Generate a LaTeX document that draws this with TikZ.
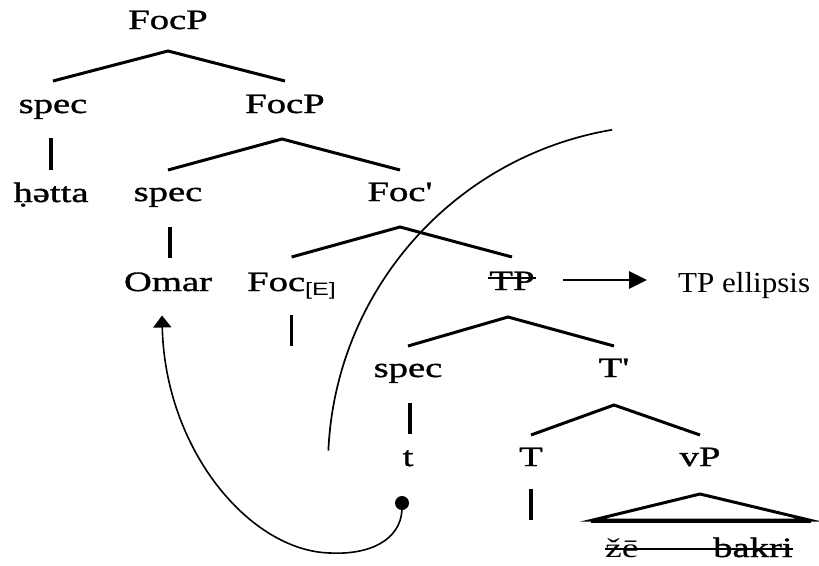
\documentclass[tikz,border=0pt]{standalone}
\usepackage{fontspec}
\usetikzlibrary{arrows.meta}
\newfontfamily\treefont[FakeStretch=1.38,FakeBold=1.2]{Liberation Serif}
\newfontfamily\wordfont[FakeStretch=1.4]{Liberation Serif}
\newfontfamily\plainfont[FakeStretch=1.07]{Liberation Serif}
\newfontfamily\subfont[FakeStretch=1.4]{Liberation Sans}
\begin{document}
\begin{tikzpicture}[x=1pt,y=-1pt,
  lbl/.style={font=\treefont\fontsize{28}{30}\selectfont,inner sep=0pt,anchor=base},
  branch/.style={line width=3pt,line join=miter},
  bar/.style={line width=3.2pt},
  thinline/.style={line width=1.7pt}]
\useasboundingbox (0,0) rectangle (819,565);
% nodes
\node[lbl] (focpA) at (168,29) {FocP};
\node[lbl] (specA) at (53,113) {spec};
\node[lbl] (focpB) at (285,113) {FocP};
\node[lbl] (hetta) at (51,202) {ḥətta};
\node[lbl] (specB) at (168,201) {spec};
\node[lbl] (focbar) at (400,201) {Foc'};
\node[lbl] (omar) at (168,291) {Omar};
\node[lbl,anchor=base west] (focE) at (247,291) {Foc{\subfont\fontsize{18}{18}\selectfont\raisebox{-4pt}{[E]}}};
\node[lbl] (tp) at (512,290) {TP};
\node[inner sep=0pt,anchor=base west,font=\plainfont\fontsize{29}{31}\selectfont] (ell) at (678,292) {TP ellipsis};
\node[lbl] (specC) at (408,377) {spec};
\node[lbl] (tbar) at (614,377) {T'};
\node[lbl] (t) at (408,466) {t};
\node[lbl] (T) at (531,466) {T};
\node[lbl] (vP) at (700,466) {vP};
\node[inner sep=0pt,anchor=base west,font=\wordfont\fontsize{27}{29}\selectfont] (ze) at (605,557) {žē};
\node[lbl,anchor=base west] (bakri) at (713,557) {bakri};
\node[circle,fill=black,inner sep=0pt,minimum size=14pt] (dot) at (402,503) {};
% branches
\draw[branch] ([yshift=32pt]specA.base) -- ([yshift=-22pt]focpA.base) -- ([yshift=32pt]focpB.base);
\draw[branch] ([yshift=31pt]specB.base) -- ([xshift=-3pt,yshift=-26pt]focpB.base) -- ([yshift=31pt]focbar.base);
\draw[branch] ([yshift=34pt]focE.base) -- ([yshift=-26pt]focbar.base) -- ([yshift=33pt]tp.base);
\draw[branch] ([yshift=31pt]specC.base) -- ([xshift=-4pt,yshift=-27pt]tp.base) -- ([yshift=31pt]tbar.base);
\draw[branch] ([yshift=31pt]T.base) -- ([yshift=-28pt]tbar.base) -- ([yshift=31pt]vP.base);
% vertical bars
\draw[bar] ([xshift=-2pt,yshift=-25pt]specA.base) -- ([xshift=-2pt,yshift=-57pt]specA.base);
\draw[bar] ([xshift=2pt,yshift=-26pt]specB.base) -- ([xshift=2pt,yshift=-57pt]specB.base);
\draw[bar] ([yshift=-24pt]focE.base) -- ([yshift=-55pt]focE.base);
\draw[bar] ([xshift=2pt,yshift=-26pt]specC.base) -- ([xshift=2pt,yshift=-57pt]specC.base);
\draw[bar] ([yshift=-23pt]T.base) -- ([yshift=-54pt]T.base);
% triangle under vP
\draw[branch] ([xshift=-107pt,yshift=-54pt]vP.base) -- ([yshift=-28pt]vP.base) -- ([xshift=109pt,yshift=-54pt]vP.base) -- cycle;
\draw[line width=2.6pt] ([xshift=-109pt,yshift=-55.5pt]vP.base) -- ([xshift=111pt,yshift=-55.5pt]vP.base);
% strikes
\draw[line width=1.6pt] ([xshift=-1pt,yshift=12pt]tp.base west) -- ([xshift=1pt,yshift=12pt]tp.base east);
\draw[line width=1.5pt] ([yshift=8pt]ze.base west) -- ([yshift=8pt]bakri.base east);
% arrow to TP ellipsis
\draw[line width=2.8pt,-{Triangle[length=18pt,width=17pt]}] ([xshift=28pt,yshift=10pt]tp.base east) -- ([xshift=-31pt,yshift=12pt]ell.base west);
% big arc
\draw[thinline] (669,466) ++(182.6:341) arc[start angle=182.6,end angle=260.4,radius=341];
% movement arrow
\draw[line width=1.6pt,-{Triangle[length=12pt,width=18pt]}] (dot.south) .. controls (400,540) and (370,555) .. (330,553) .. controls (250,551) and (165,450) .. ([xshift=-6pt,yshift=-24pt]omar.south);
\end{tikzpicture}
\end{document}
